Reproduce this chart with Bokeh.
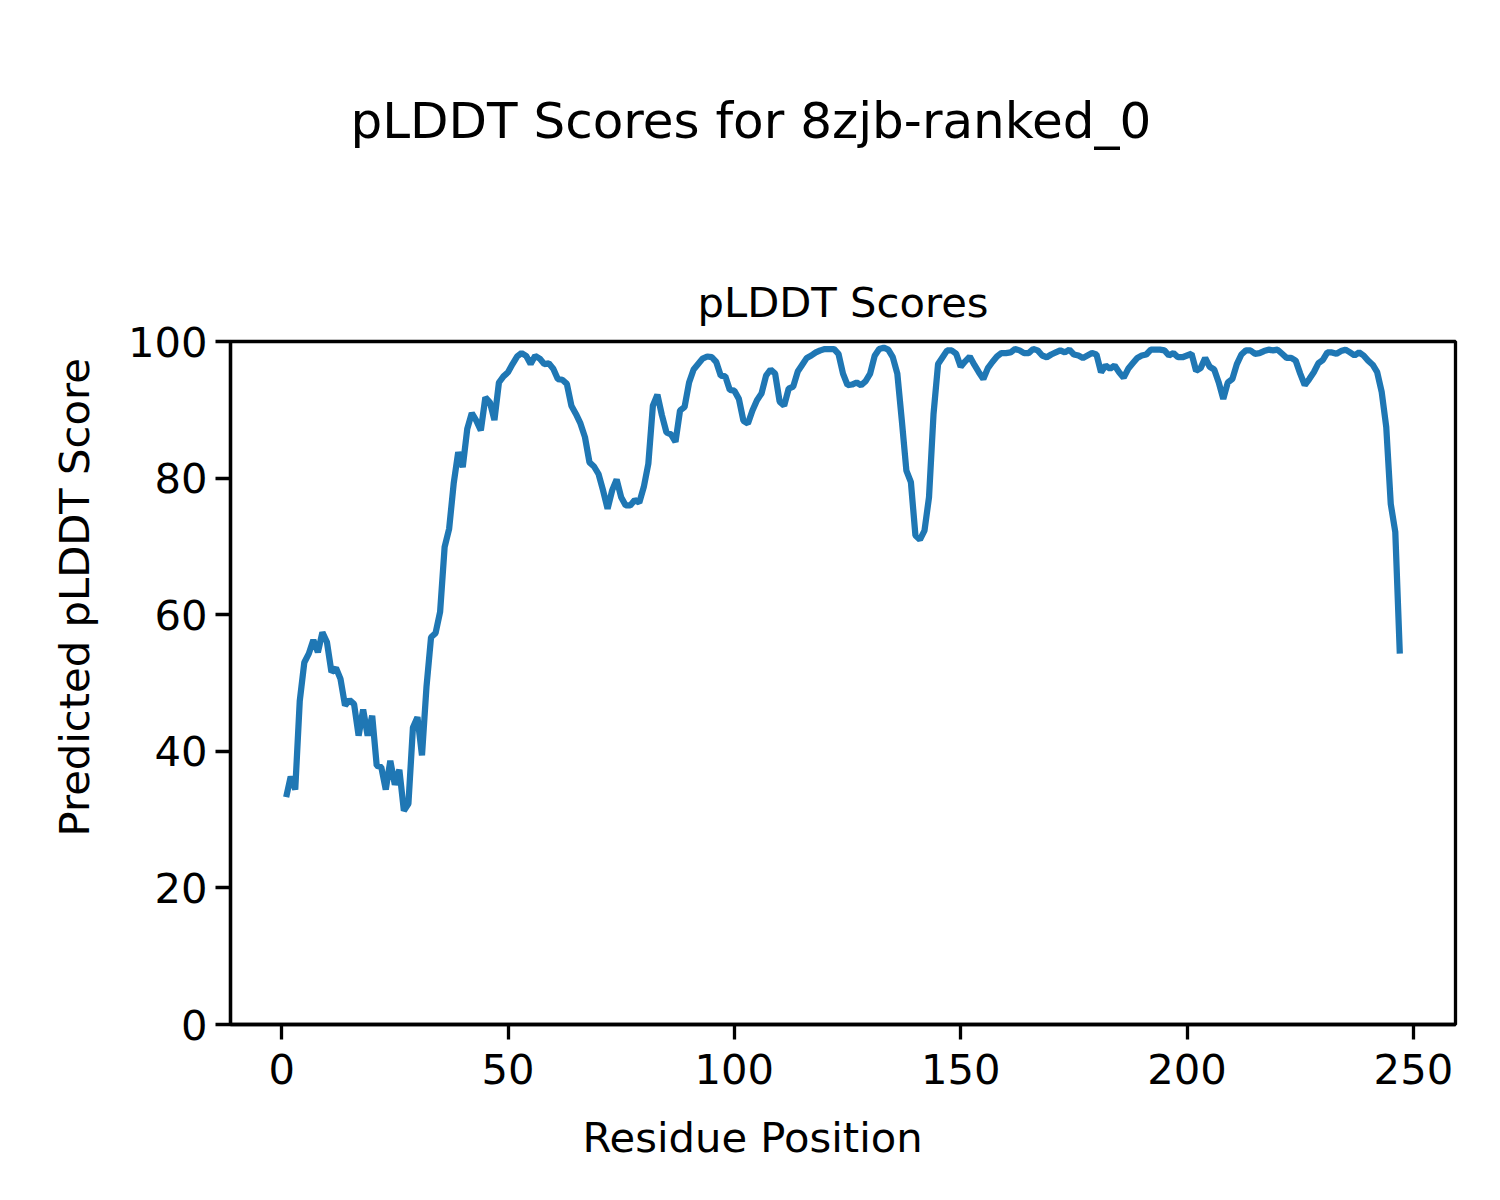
from bokeh.plotting import figure
from bokeh.models import Range1d, FixedTicker, Title, ColumnDataSource
from bokeh.embed import file_html
from bokeh.resources import INLINE

residues = list(range(1, 248))
plddt = [
    33.3, 36.3, 34.4, 47.4, 53.0, 54.3, 56.3, 54.5, 57.4, 56.0,
    51.6, 52.2, 50.6, 46.7, 47.5, 46.9, 42.3, 46.1, 42.3, 45.2,
    37.9, 37.7, 34.4, 38.6, 35.1, 37.3, 31.3, 32.3, 43.5, 45.0,
    39.4, 49.5, 56.7, 57.3, 60.4, 69.9, 72.6, 79.2, 83.8, 81.6,
    87.2, 89.5, 88.4, 87.0, 91.8, 91.1, 88.5, 94.0, 94.9, 95.5,
    96.7, 97.8, 98.3, 97.9, 96.7, 97.9, 97.5, 96.7, 96.8, 96.0,
    94.5, 94.4, 93.8, 90.6, 89.4, 88.0, 86.0, 82.3, 81.7, 80.6,
    78.2, 75.5, 78.2, 79.8, 77.2, 76.0, 76.0, 76.8, 76.4, 78.7,
    82.1, 90.6, 92.2, 89.2, 86.7, 86.4, 85.3, 89.9, 90.4, 94.0,
    95.9, 96.7, 97.5, 97.8, 97.7, 97.0, 95.0, 94.9, 92.9, 92.8,
    91.6, 88.4, 88.0, 89.9, 91.4, 92.4, 95.0, 95.9, 95.3, 91.2,
    90.6, 93.1, 93.4, 95.6, 96.6, 97.6, 97.95, 98.4, 98.7, 98.9,
    98.9, 98.9, 98.2, 95.3, 93.6, 93.7, 94.0, 93.6, 94.2, 95.3,
    97.9, 98.9, 99.1, 98.8, 97.7, 95.3, 88.4, 81.1, 79.4, 71.6,
    71.0, 72.3, 77.2, 89.4, 96.7, 97.7, 98.7, 98.7, 98.2, 96.3,
    97.1, 97.8, 96.6, 95.5, 94.5, 96.1, 97.0, 97.8, 98.3, 98.3,
    98.4, 98.9, 98.7, 98.3, 98.3, 98.9, 98.7, 97.95, 97.7, 98.1,
    98.4, 98.7, 98.4, 98.8, 98.1, 97.95, 97.6, 97.95, 98.3, 98.1,
    95.5, 96.5, 96.0, 96.5, 95.5, 94.7, 96.0, 96.8, 97.6, 97.95,
    98.1, 98.8, 98.8, 98.8, 98.7, 97.95, 98.3, 97.7, 97.7, 97.95,
    98.2, 95.7, 96.1, 97.6, 96.3, 95.9, 94.0, 91.6, 94.0, 94.5,
    96.7, 98.1, 98.7, 98.7, 98.2, 98.3, 98.6, 98.8, 98.7, 98.8,
    98.2, 97.6, 97.6, 97.2, 95.3, 93.6, 94.5, 95.5, 96.8, 97.3,
    98.4, 98.4, 98.2, 98.6, 98.8, 98.4, 97.95, 98.4, 97.95, 97.2,
    96.6, 95.5, 92.6, 87.5, 76.2, 72.1, 54.3,
]
x_ticks = [0, 50, 100, 150, 200, 250]
y_ticks = [0, 20, 40, 60, 80, 100]

suptitle = "pLDDT Scores for 8zjb-ranked_0"
axes_title = "pLDDT Scores"
x_label = "Residue Position"
y_label = "Predicted pLDDT Score"

FONT = "DejaVu Sans"
FS = "41.7px"

span = residues[-1] - residues[0]
x_range = Range1d(residues[0] - 0.05 * span, residues[-1] + 0.05 * span)
y_range = Range1d(0, 100)

p = figure(width=1490, height=1192, x_range=x_range, y_range=y_range,
           output_backend="svg", toolbar_location=None,
           min_border_left=230, min_border_right=35,
           min_border_top=341, min_border_bottom=168)

src = ColumnDataSource(dict(x=residues, y=plddt))
p.line("x", "y", source=src, line_color="#1f77b4", line_width=6.25)

p.grid.visible = False
p.outline_line_color = "black"
p.outline_line_width = 3.3
p.background_fill_color = "white"
p.border_fill_color = "white"

for ax, ticks, standoff in ((p.xaxis[0], x_ticks, 14), (p.yaxis[0], y_ticks, 8)):
    ax.ticker = FixedTicker(ticks=ticks)
    ax.axis_line_width = 3.3
    ax.major_tick_line_width = 3.3
    ax.major_tick_out = 15
    ax.major_tick_in = 0
    ax.minor_tick_line_color = None
    ax.major_label_text_font = FONT
    ax.major_label_text_font_size = FS
    ax.major_label_text_color = "black"
    ax.major_label_standoff = standoff

# figure-level title (outermost)
p.title.text = suptitle
p.title.align = "left"
p.title.offset = 120
p.title.text_font = FONT
p.title.text_font_size = "50px"
p.title.text_font_style = "normal"
p.title.text_color = "black"
p.title.standoff = 10

# axes title (nearest the frame), then a blank spacer between the two
p.add_layout(Title(text=axes_title, align="center",
                   text_font=FONT, text_font_size=FS, text_color="black",
                   text_font_style="normal", standoff=30), "above")
p.add_layout(Title(text=" ", align="center",
                   text_font=FONT, text_font_size="10px", text_color="black",
                   text_font_style="normal", standoff=93), "above")

# figure-level axis labels
p.add_layout(Title(text=x_label, align="left", offset=352,
                   text_font=FONT, text_font_size=FS, text_color="black",
                   text_font_style="normal", standoff=48), "below")
p.add_layout(Title(text=y_label, align="left", offset=188,
                   text_font=FONT, text_font_size=FS, text_color="black",
                   text_font_style="normal", standoff=52), "left")

open("out.html", "w").write(file_html(p, INLINE))
